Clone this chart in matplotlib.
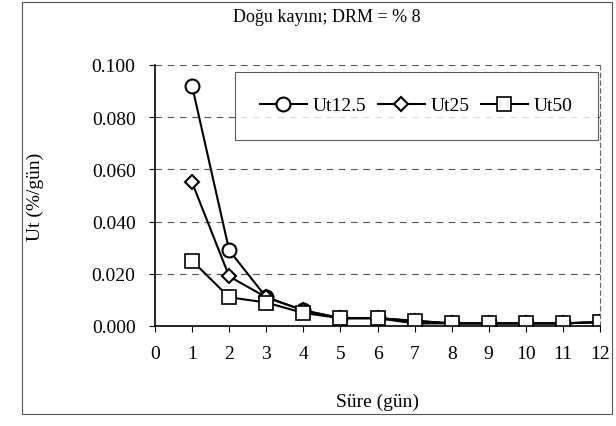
import matplotlib
matplotlib.use("Agg")
import matplotlib.pyplot as plt
from matplotlib.patches import Rectangle

days = [1, 2, 3, 4, 5, 6, 7, 8, 9, 10, 11, 12]
ut125 = [0.092, 0.029, 0.011, 0.006, 0.003, 0.003, 0.001, 0.001, 0.001, 0.001, 0.001, 0.0015]
ut25 = [0.055, 0.019, 0.011, 0.006, 0.003, 0.003, 0.002, 0.001, 0.001, 0.001, 0.001, 0.0015]
ut50 = [0.025, 0.011, 0.009, 0.005, 0.003, 0.003, 0.002, 0.001, 0.001, 0.001, 0.001, 0.0015]
yticks = [0.0, 0.02, 0.04, 0.06, 0.08, 0.1]
ytick_labels = ["0.000", "0.020", "0.040", "0.060", "0.080", "0.100"]
xticks = list(range(0, 13))

plt.rcParams['font.family'] = ['Liberation Serif', 'DejaVu Serif']

fig = plt.figure(figsize=(6.16, 4.27), dpi=100)
ax = fig.add_axes([155/616, 1 - 327/427, (600 - 155)/616, (327 - 66)/427])

ax.plot(days, ut125, color='black', lw=1.5, marker='o', ms=10, mfc='white', mec='black', mew=1.5, label='Ut12.5')
ax.plot(days, ut25, color='black', lw=1.5, marker='D', ms=7, mfc='white', mec='black', mew=1.5, label='Ut25')
ax.plot(days, ut50, color='black', lw=1.5, marker='s', ms=10, mfc='white', mec='black', mew=1.2, label='Ut50')

ax.set_xlim(0, 12)
ax.set_ylim(0, 0.1)
ax.set_xticks(xticks)
ax.set_yticks(yticks)
ax.set_yticklabels(ytick_labels)
ax.tick_params(axis='both', labelsize=14, direction='out', length=4, color='black')
ax.tick_params(axis='x', pad=10)
ax.tick_params(axis='y', pad=10)

for y in yticks[1:]:
    ax.axhline(y, color='#555555', lw=0.8, ls=(0, (6, 5)), zorder=0)

ax.spines['top'].set_visible(False)
ax.spines['right'].set_color('#666666')
ax.spines['right'].set_linestyle((0, (4, 3)))
ax.spines['right'].set_linewidth(0.8)
ax.spines['left'].set_linewidth(1.2)
ax.spines['bottom'].set_linewidth(1.2)

ax.set_xlabel('Süre (gün)', fontsize=14, labelpad=22)
ax.set_ylabel('Ut (%/gün)', fontsize=14, labelpad=34)
fig.text(0.5 + 0.03, 1 - 18/427, 'Doğu kayını; DRM = % 8', ha='center', va='center', fontsize=13)

leg = ax.legend(loc='upper right', bbox_to_anchor=(0.995, 0.975), ncol=3, fontsize=14, frameon=True,
                fancybox=False, edgecolor='#333333', handlelength=2.4, handletextpad=0.3,
                columnspacing=0.6, borderpad=1.3, borderaxespad=0.0)
leg.get_frame().set_linewidth(0.8)

fig.add_artist(Rectangle((22/616, 1 - 415/427), (612 - 22)/616, (415 - 3)/427,
                         transform=fig.transFigure, fill=False, edgecolor='#555555', lw=0.8))

fig.savefig('out.png', dpi=100)
